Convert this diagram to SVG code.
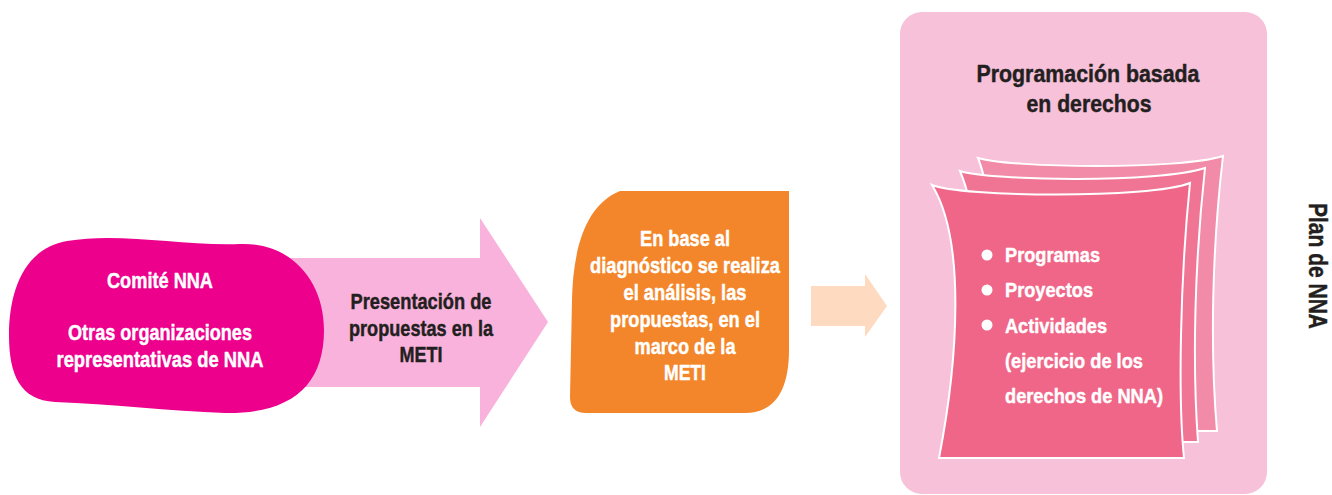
<svg xmlns="http://www.w3.org/2000/svg" width="1332" height="495" viewBox="0 0 1332 495">
<style>
.t{font-family:"Liberation Sans Narrow","Liberation Sans",Arial,sans-serif;font-weight:bold;font-size:22px;stroke-width:0.45px;stroke-linejoin:round}
.w{fill:#FFFFFF;stroke:#FFFFFF}
.d{fill:#231F20;stroke:#231F20}
.page{stroke:#FFFFFF;stroke-width:2}
</style>
<rect width="1332" height="495" fill="#FFFFFF"/>
<g id="programacion">
<rect x="900" y="12" width="367" height="482" rx="22" fill="#F6C1D9"/>
<text class="t d" x="1088" y="82" text-anchor="middle" style="font-size:24px" textLength="223" lengthAdjust="spacingAndGlyphs">Programación basada</text>
<text class="t d" x="1089" y="112" text-anchor="middle" style="font-size:24px" textLength="125" lengthAdjust="spacingAndGlyphs">en derechos</text>
<path class="page" fill="#F28BA7" d="M 978 158 C 1010 168, 1180 170, 1223 156 C 1212 250, 1210 350, 1217 431 L 1000 431 C 1000 300, 995 200, 978 158 Z"/>
<path class="page" fill="#F07595" d="M 960 171 C 990 181, 1160 183, 1205 168 C 1195 260, 1192 360, 1198 442 L 985 442 C 985 350, 985 230, 960 171 Z"/>
<path class="page" fill="#F06688" d="M 932 185 C 960 197, 1150 199, 1190 183 C 1180 280, 1178 400, 1184 458 L 939 458 C 958 360, 966 240, 932 185 Z"/>
<circle cx="987" cy="255" r="5.5" fill="#FFFFFF"/>
<circle cx="987" cy="290" r="5.5" fill="#FFFFFF"/>
<circle cx="987" cy="325" r="5.5" fill="#FFFFFF"/>
<text class="t w" x="1005" y="262" style="font-size:21px" textLength="95" lengthAdjust="spacingAndGlyphs">Programas</text>
<text class="t w" x="1005" y="297" style="font-size:21px" textLength="88" lengthAdjust="spacingAndGlyphs">Proyectos</text>
<text class="t w" x="1005" y="333" style="font-size:21px" textLength="102" lengthAdjust="spacingAndGlyphs">Actividades</text>
<text class="t w" x="1005" y="368" style="font-size:21px" textLength="138" lengthAdjust="spacingAndGlyphs">(ejercicio de los</text>
<text class="t w" x="1005" y="403" style="font-size:21px" textLength="158" lengthAdjust="spacingAndGlyphs">derechos de NNA)</text>
</g>
<g id="presentacion">
<polygon points="290,258 480,258 480,218 548,322 480,427 480,387 290,387" fill="#F9B2DB"/>
<text class="t d" x="421" y="309" text-anchor="middle" textLength="141" lengthAdjust="spacingAndGlyphs">Presentación de</text>
<text class="t d" x="421" y="336" text-anchor="middle" textLength="144" lengthAdjust="spacingAndGlyphs">propuestas en la</text>
<text class="t d" x="421" y="362" text-anchor="middle" textLength="43" lengthAdjust="spacingAndGlyphs">METI</text>
</g>
<g id="comite">
<path fill="#EC008C" d="M 67 241 C 120 232, 180 246, 240 244 C 290 242, 324 280, 324 330 C 324 385, 292 414, 225 413 C 170 411, 110 404, 55 402 C 20 400, 9 375, 9 335 C 9 290, 25 248, 67 241 Z"/>
<text class="t w" x="160" y="288" text-anchor="middle" textLength="106" lengthAdjust="spacingAndGlyphs">Comité NNA</text>
<text class="t w" x="160" y="340" text-anchor="middle" textLength="184" lengthAdjust="spacingAndGlyphs">Otras organizaciones</text>
<text class="t w" x="160" y="367" text-anchor="middle" textLength="207" lengthAdjust="spacingAndGlyphs">representativas de NNA</text>
</g>
<g id="analisis">
<path fill="#F3862A" d="M 620 191 L 789 191 L 789 350 C 789 390, 775 413, 745 413 L 586 413 Q 570 413, 570 397 L 572 300 C 573 250, 585 205, 620 191 Z"/>
<text class="t w" x="685" y="246" text-anchor="middle" textLength="90" lengthAdjust="spacingAndGlyphs">En base al</text>
<text class="t w" x="685" y="273" text-anchor="middle" textLength="190" lengthAdjust="spacingAndGlyphs">diagnóstico se realiza</text>
<text class="t w" x="685" y="300" text-anchor="middle" textLength="123" lengthAdjust="spacingAndGlyphs">el análisis, las</text>
<text class="t w" x="685" y="327" text-anchor="middle" textLength="150" lengthAdjust="spacingAndGlyphs">propuestas, en el</text>
<text class="t w" x="685" y="354" text-anchor="middle" textLength="101" lengthAdjust="spacingAndGlyphs">marco de la</text>
<text class="t w" x="685" y="380" text-anchor="middle" textLength="42" lengthAdjust="spacingAndGlyphs">METI</text>
</g>
<g id="connectors">
<polygon points="811,286 865,286 865,274 887,306 865,337 865,326 811,326" fill="#FDDAC0"/>
</g>
<g id="plan">
<text class="t d" transform="translate(1309,266) rotate(90)" text-anchor="middle" style="font-size:26px" textLength="126" lengthAdjust="spacingAndGlyphs">Plan de NNA</text>
</g>
</svg>
